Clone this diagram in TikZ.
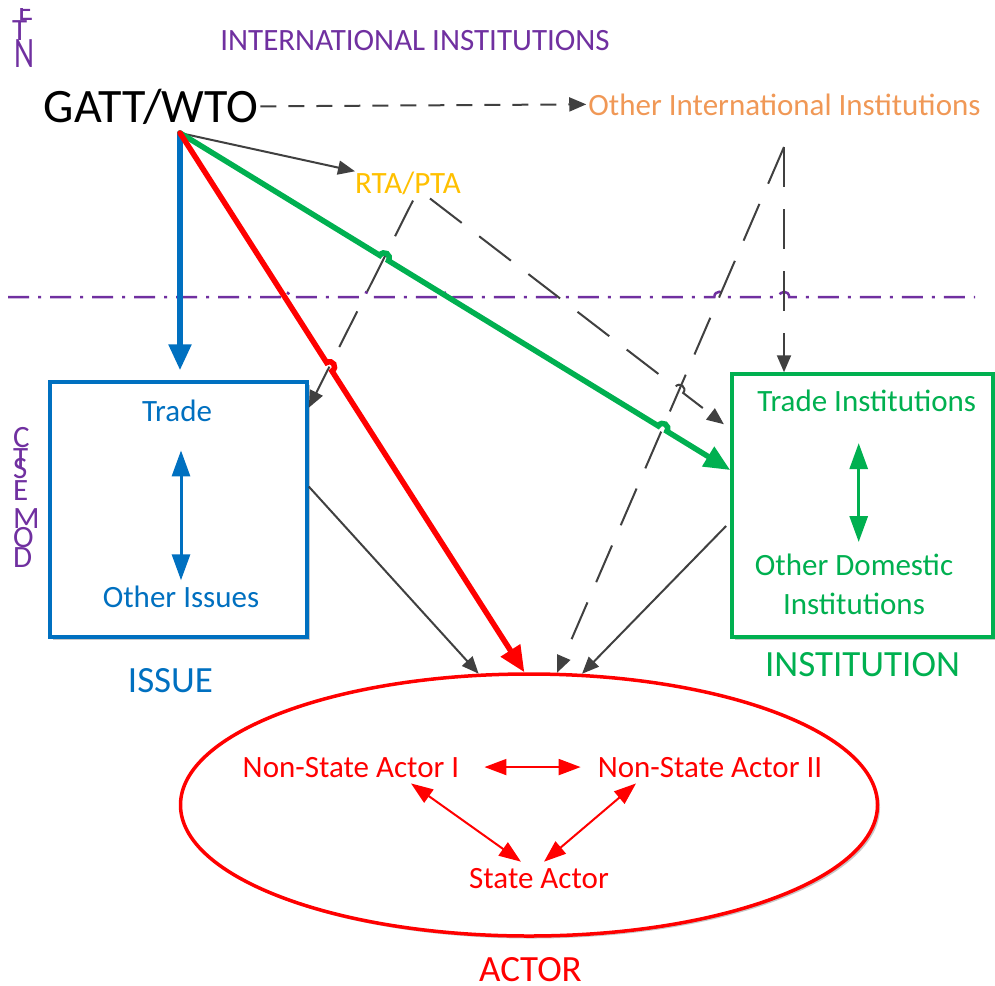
\documentclass[tikz,border=0pt]{standalone}
\usepackage{fontspec}
\setmainfont{Carlito}
\usepackage{tikz}
\usetikzlibrary{arrows.meta, shapes.geometric, calc, shadows}

\definecolor{intpurple}{RGB}{112,48,160}
\definecolor{issueblue}{RGB}{0,112,192}
\definecolor{instgreen}{RGB}{0,176,80}
\definecolor{rtagold}{RGB}{255,192,0}
\definecolor{oiorange}{RGB}{240,152,86}
\definecolor{linkgray}{RGB}{64,64,64}

\newcommand{\hop}[3]{-- ($(#2)!5pt!(#1)$) .. controls ($(#2)!5pt!(#1)!7pt!90:(#2)$) and ($(#2)!5pt!(#3)!7pt!-90:(#2)$) .. ($(#2)!5pt!(#3)$)}

\tikzset{
  lbl/.style={inner sep=0pt, font=\fontsize{31}{38.3}\selectfont},
  biglbl/.style={inner sep=0pt, font=\fontsize{37}{44}\selectfont},
  panel/.style={draw, line width=3.5pt, fill=white, drop shadow={shadow xshift=2.5pt, shadow yshift=-2.5pt, opacity=0.22, fill=black}},
  thickarr/.style={line width=5.5pt, line cap=round, -{Triangle[length=26pt,width=22pt]}},
  linkarr/.style={draw=linkgray, line width=2pt, -{Triangle[length=17pt,width=14pt]}},
  dasharr/.style={linkarr, dash pattern=on 16pt off 12pt},
  ldasharr/.style={linkarr, dash pattern=on 40pt off 22pt},
  inarr/.style={line width=3pt, {Triangle[length=26pt,width=18pt]}-{Triangle[length=26pt,width=18pt]}},
  redarr/.style={draw=red, line width=2pt, {Triangle[length=22pt,width=16pt]}-{Triangle[length=22pt,width=16pt]}}
}

\begin{document}
\begin{tikzpicture}[x=1pt, y=-1pt]
\useasboundingbox (0,0) rectangle (995,985);

\node[panel, draw=issueblue, minimum width=257pt, minimum height=255pt] (issue) at (178.5,509.5) {};
\node[panel, draw=instgreen, minimum width=261pt, minimum height=263pt] (inst) at (862.5,505.5) {};
\node[panel, ellipse, draw=red, minimum width=697pt, minimum height=262pt] (actor) at (529,805) {};

\node[lbl, anchor=base, intpurple] (intl) at (415,50) {INTERNATIONAL INSTITUTIONS};
\node[anchor=base, inner sep=2pt, font=\fontsize{48}{56}\selectfont] (gatt) at (151,122) {GATT/WTO};
\node[lbl, anchor=base, inner sep=2pt, oiorange] (otherintl) at (784.5,115) {Other International Institutions};
\node[lbl, anchor=base, rtagold] (rta) at (408,193) {RTA/PTA};
\node[lbl, anchor=base, issueblue] (trade) at (177,421) {Trade};
\node[lbl, anchor=base, issueblue] (otherissue) at (181,607) {Other Issues};
\node[biglbl, anchor=base, issueblue] (issuelbl) at (170.5,692) {ISSUE};
\node[lbl, anchor=base, instgreen] (tradeinst) at (866.7,411.7) {Trade Institutions};
\node[lbl, anchor=north, align=center, instgreen] (otherinst) at (854,554) {Other Domestic\\Institutions};
\node[biglbl, anchor=base, instgreen] (instlbl) at (862.5,676.7) {INSTITUTION};
\node[lbl, anchor=base, red] (nsa1) at (351,777) {Non-State Actor I};
\node[lbl, anchor=base, red] (nsa2) at (710,777) {Non-State Actor II};
\node[lbl, anchor=base, red] (state) at (539,888) {State Actor};
\node[biglbl, anchor=base, red] (actorlbl) at (530.5,981) {ACTOR};

\begin{scope}[intpurple, every node/.style={lbl, anchor=base west}]
\begin{scope}
\clip (0,8) rectangle (60,22);
\node (tn-e) at (18,20) {E};
\end{scope}
\node (tn-t) at (12,40) {T};
\node (tn-n) at (14,67) {\scalebox{1}[1.4]{N}};
\foreach \ch/\yb in {C/447, T/468, S/478, E/500, M/528, O/547, D/567}
  \node (cs-\yb) at (13,\yb) {\ch};
\end{scope}

\coordinate (hub) at (180,133);
\coordinate (oisrc) at (784,147);
\coordinate (pL) at (8,297);
\coordinate (pR) at (975,297);
\coordinate (rEnd) at (actor.92);
\coordinate (gEnd) at (inst.165);
\coordinate (r6s) at ([xshift=5pt,yshift=-6pt]rta.south);
\coordinate (r6e) at (issue.38);
\coordinate (r7s) at ([xshift=22pt,yshift=-4pt]rta.south);
\coordinate (r7e) at (inst.150);
\coordinate (o8e) at (actor.78);
\coordinate (o9e) at (oisrc |- inst.north);

\coordinate (xg6) at (intersection of hub--gEnd and r6s--r6e);
\coordinate (xg8) at (intersection of hub--gEnd and oisrc--o8e);
\coordinate (xr6) at (intersection of hub--rEnd and r6s--r6e);
\coordinate (x78) at (intersection of r7s--r7e and oisrc--o8e);
\coordinate (xpr) at (intersection of pL--pR and hub--rEnd);
\coordinate (xp6) at (intersection of pL--pR and r6s--r6e);
\coordinate (xpg) at (intersection of pL--pR and hub--gEnd);
\coordinate (xp8) at (intersection of pL--pR and oisrc--o8e);
\coordinate (xp9) at (intersection of pL--pR and oisrc--o9e);

\draw[intpurple, line width=2.5pt, dash pattern=on 21pt off 9pt on 3pt off 9pt] (pL) \hop{pL}{xpr}{pR} \hop{pL}{xp6}{pR} \hop{pL}{xpg}{pR} \hop{pL}{xp8}{pR} \hop{pL}{xp9}{pR} -- (pR);

\draw[dasharr] (gatt.east) -- (otherintl.west);
\draw[linkarr] (hub) -- (rta.north west);
\draw[ldasharr] (r6s) -- (r6e);
\draw[ldasharr, shorten >=8pt] (r7s) \hop{r7s}{x78}{r7e} -- (r7e);
\draw[ldasharr] (oisrc) -- (o8e);
\draw[ldasharr] (oisrc) -- (o9e);
\draw[linkarr] (issue.10) -- (actor.111);
\draw[linkarr, shorten <=6pt] (inst.187) -- (actor.68);

\draw[thickarr, issueblue, shorten >=10pt] (hub) -- (hub |- issue.north);
\draw[thickarr, instgreen] (hub) \hop{hub}{xg6}{gEnd} \hop{hub}{xg8}{gEnd} -- (gEnd);
\draw[thickarr, red] (hub) \hop{hub}{xr6}{rEnd} -- (rEnd);

\draw[inarr, issueblue, shorten <=29pt, shorten >=5pt] (trade.south -| otherissue.north) -- (otherissue.north);
\draw[inarr, instgreen, shorten <=31pt, shorten >=12pt] ([xshift=-8pt]tradeinst.south) -- ([xshift=-8pt]tradeinst.south |- otherinst.north);

\draw[redarr] ([xshift=25pt]nsa1.east) -- ([xshift=-17pt]nsa2.west);
\draw[redarr] ([xshift=60pt,yshift=-6pt]nsa1.south) -- ([xshift=-18pt,yshift=6pt]state.north);
\draw[redarr] ([xshift=-74pt,yshift=-6pt]nsa2.south) -- ([xshift=5pt,yshift=6pt]state.north);

\end{tikzpicture}
\end{document}
